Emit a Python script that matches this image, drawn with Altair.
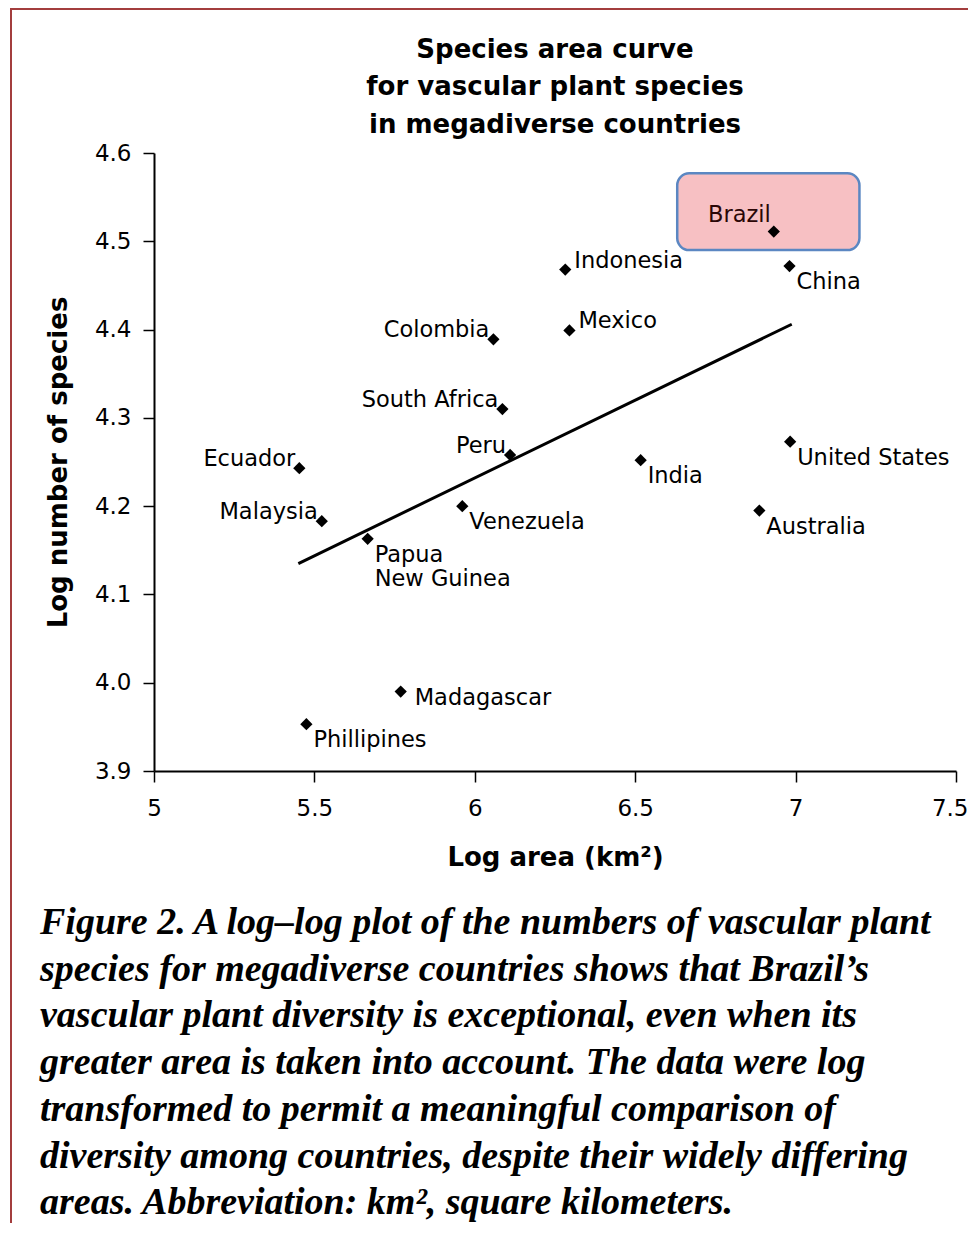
import altair as alt
import pandas as pd

# ---- data ----
countries = ["Brazil", "Indonesia", "China", "Mexico", "Colombia", "South Africa",
             "Peru", "Ecuador", "India", "United States", "Malaysia", "Venezuela",
             "Australia", "Papua\nNew Guinea", "Madagascar", "Phillipines"]
log_area = [6.932, 6.282, 6.981, 6.295, 6.058, 6.086, 6.110, 5.453, 6.517, 6.983,
            5.523, 5.961, 6.887, 5.666, 5.769, 5.475]
log_species = [4.511, 4.468, 4.472, 4.399, 4.389, 4.310, 4.258, 4.243, 4.252, 4.273,
               4.183, 4.200, 4.195, 4.163, 3.990, 3.953]
label_side = ["above_left", "right", "below_right", "right", "left", "left",
              "left", "left", "below_right", "below_right", "left", "below_right",
              "below_right", "below_right", "right_mid", "below_right"]

trend_area = [5.450, 6.988]
trend_species = [4.135, 4.406]

box_area = [6.631, 7.199]
box_species = [4.490, 4.577]

x_ticks = [5, 5.5, 6, 6.5, 7, 7.5]
y_ticks = [3.9, 4.0, 4.1, 4.2, 4.3, 4.4, 4.5, 4.6]

title_lines = ["Species area curve", "for vascular plant species", "in megadiverse countries"]
caption_lines = [
    "Figure 2. A log\u2013log plot of the numbers of vascular plant",
    "species for megadiverse countries shows that Brazil\u2019s",
    "vascular plant diversity is exceptional, even when its",
    "greater area is taken into account. The data were log",
    "transformed to permit a meaningful comparison of",
    "diversity among countries, despite their widely differing",
    "areas. Abbreviation: km\u00b2, square kilometers.",
]

pts = pd.DataFrame({"country": countries, "area": log_area,
                    "species": log_species, "side": label_side})
trend = pd.DataFrame({"area": trend_area, "species": trend_species})
box = pd.DataFrame({"a1": [box_area[0]], "a2": [box_area[1]],
                    "s1": [box_species[0]], "s2": [box_species[1]]})
one = pd.DataFrame({"k": [0]})

W, H = 802, 618
SANS = "DejaVu Sans"

xs = alt.Scale(domain=[5, 7.5], nice=False, zero=False)
ys = alt.Scale(domain=[3.9, 4.6], nice=False, zero=False)

x_enc = alt.X("area:Q", scale=xs, axis=alt.Axis(
    values=x_ticks, format=".1~f", title="Log area (km\u00b2)",
    labelPadding=15, labelFlush=False,
    labelAlign={"condition": {"test": "datum.value == 7.5", "value": "right"},
                "value": "center"},
    labelOffset={"condition": {"test": "datum.value == 7.5", "value": 12},
                 "value": 0},
    titleX=W / 2, titleY=94, titleBaseline="alphabetic",
    titleAlign="center"))
y_enc = alt.Y("species:Q", scale=ys, axis=alt.Axis(
    values=y_ticks, format=".1f", title="Log number of species",
    labelPadding=12, labelFlush=False, titleAngle=-90, titleX=-88, titleY=H / 2,
    titleBaseline="alphabetic", titleAlign="center"))

box_layer = alt.Chart(box).mark_rect(
    cornerRadius=12, fill="#f7c0c3", stroke="#5b87c2", strokeWidth=2.5
).encode(x=alt.X("a1:Q", scale=xs), x2="a2:Q",
         y=alt.Y("s1:Q", scale=ys), y2="s2:Q")

trend_layer = alt.Chart(trend).mark_line(color="black", strokeWidth=3).encode(
    x=x_enc, y=y_enc)

point_layer = alt.Chart(pts).mark_point(
    shape="diamond", filled=True, size=150, color="black", opacity=1
).encode(x=alt.X("area:Q", scale=xs), y=alt.Y("species:Q", scale=ys))

placements = [
    ("left", "right", -4, -2, "black"),
    ("above_left", "right", -3, -10, "#2a0606"),
    ("right", "left", 9, -2, "black"),
    ("right_mid", "left", 14, 13, "black"),
    ("below_right", "left", 7, 23, "black"),
]
label_layers = []
for side, align, dx, dy, col in placements:
    label_layers.append(
        alt.Chart(pts).transform_filter(alt.datum.side == side).mark_text(
            align=align, baseline="alphabetic", dx=dx, dy=dy, font=SANS,
            fontSize=22.5, color=col, lineBreak="\n", lineHeight=24
        ).encode(x=alt.X("area:Q", scale=xs), y=alt.Y("species:Q", scale=ys),
                 text="country:N")
    )

title_layer = alt.Chart(one).mark_text(
    text=title_lines, align="center", baseline="alphabetic", font=SANS,
    fontSize=26, fontWeight="bold", lineHeight=37.5, color="black"
).encode(x=alt.value(W / 2), y=alt.value(-95.5))

caption_layer = alt.Chart(one).mark_text(
    text=caption_lines, align="left", baseline="alphabetic",
    font="Liberation Serif", fontStyle="italic", fontWeight="bold",
    fontSize=38, lineHeight=46.7, color="black"
).encode(x=alt.value(-114), y=alt.value(781))

frame_v = alt.Chart(one).mark_rule(color="#a33d3d", strokeWidth=2).encode(
    x=alt.value(-143), y=alt.value(-145), y2=alt.value(1080))
frame_h = alt.Chart(one).mark_rule(color="#a33d3d", strokeWidth=2).encode(
    x=alt.value(-144), x2=alt.value(830), y=alt.value(-144))

chart = alt.layer(
    frame_v, frame_h, box_layer, trend_layer, point_layer, *label_layers,
    title_layer, caption_layer
).properties(
    width=W, height=H,
    padding={"left": 146, "top": 145, "right": 12, "bottom": 452},
    autosize=alt.AutoSizeParams(type="none"),
).configure_view(stroke=None).configure_axis(
    grid=False, domainColor="black", domainWidth=2, tickColor="black",
    tickWidth=1.5, tickSize=11, labelFont=SANS, labelFontSize=23,
    labelColor="black", titleFont=SANS, titleFontSize=26,
    titleFontWeight="bold", titleColor="black"
).configure_axisY(labelBaseline="middle")

chart.save("out.html", embed_options={"renderer": "svg", "actions": False})
